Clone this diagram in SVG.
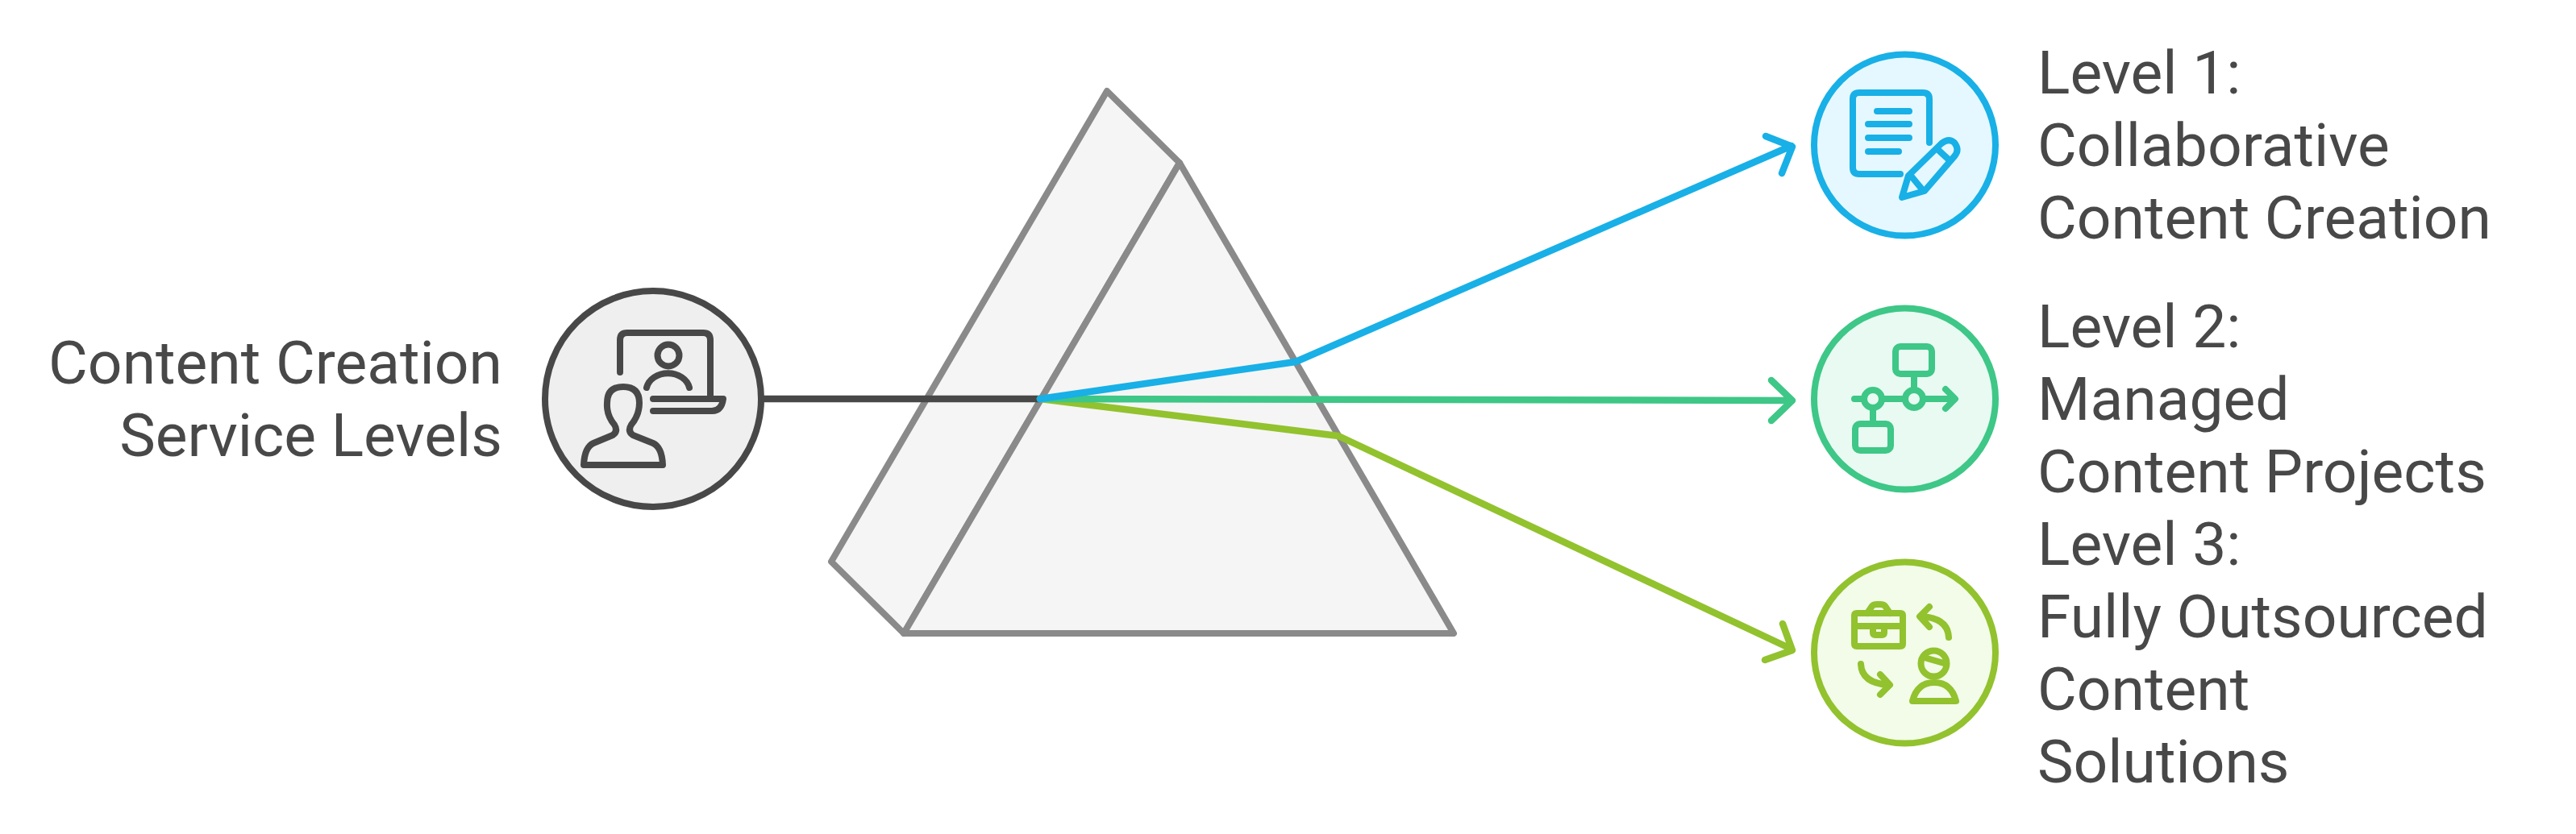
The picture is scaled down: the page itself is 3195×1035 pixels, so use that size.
<svg xmlns="http://www.w3.org/2000/svg" width="3195" height="1035" viewBox="0 0 3195 1035">
<style>
text{font-family:Roboto,"Liberation Sans",sans-serif;font-size:75px;fill:#484848}
.c{stroke-width:8.500;fill:none;stroke-linecap:round;stroke-linejoin:round}
.i{stroke-width:8;fill:none;stroke-linecap:round;stroke-linejoin:round}
.p{fill:#f5f5f5;stroke:#8a8a8a;stroke-width:8;stroke-linejoin:round}
.o{stroke-width:8}
.b{stroke:#18b0e6}.g{stroke:#3ec787}.l{stroke:#92c22e}.d{stroke:#484848}
</style>
<g id="prism"><path class="p" d="M1373 113L1463 202L1121 786L1031 697Z"/><path class="p" d="M1463 202L1803 786H1121Z"/></g>
<g id="connectors">
<path class="c d" d="M947 495H1290"/>
<path class="c l" d="M1290 495L1660 541L2221 805M2189 819L2223 807L2211 774"/>
<path class="c g" d="M1290 495L2222 497M2197 472L2223 497L2197 522"/>
<path class="c b" d="M1290 495L1607 449L2222 181M2190 169L2223 182L2210 215"/>
</g>
<g id="source"><circle class="o d" cx="810" cy="495" r="134" fill="#efefef"/>
<path class="i d" d="M769 462V422Q769 413 778 413H872Q881 413 881 422V493M810 495H897Q895 510 883 510H810M802 481A27 22 0 0 1 855 481"/>
<circle class="i d" cx="829" cy="441" r="13.500"/>
<path class="i d" d="M724 577Q725 555 736 550L760 540Q767 535 762 527Q752 515 753 500Q753 480 773 480Q793 480 793 500Q793 515 783 527Q778 535 785 540L810 550Q821 555 822 577Z"/>
</g>
<g id="level1"><circle class="o b" cx="2362.500" cy="180" r="112.500" fill="#e5f8ff"/>
<path class="i b" d="M2357 216H2306Q2298 216 2298 208V123Q2298 115 2306 115H2385Q2393 115 2393 123V177M2328 138H2368M2317 154H2368M2317 171H2368M2317 188H2355M2359 245L2367 218L2408 178Q2417 171 2424 177Q2431 186 2424 194L2387 237ZM2370 218L2384 235M2405 187L2418 199"/></g>
<g id="level2"><circle class="o g" cx="2362.500" cy="495" r="112.500" fill="#e8faf2"/>
<path class="i g" d="M2300 495H2312M2334 495H2363M2385 495H2424M2413 483L2425 495L2413 507M2374 484V465M2323 506V525"/>
<rect class="i g" x="2351" y="430" width="45" height="34" rx="6"/><rect class="i g" x="2301" y="526" width="44" height="33" rx="6"/><circle class="i g" cx="2323" cy="495" r="11"/><circle class="i g" cx="2374" cy="495" r="11"/></g>
<g id="level3"><circle class="o l" cx="2362.500" cy="810" r="112.500" fill="#f3fbe9"/>
<path class="i l" d="M2303 761H2357Q2360 761 2360 764V799Q2360 802 2357 802H2303Q2300 802 2300 799V764Q2300 761 2303 761ZM2300 777H2360M2316 761L2322 752Q2324 750 2328 750H2332Q2336 750 2338 752L2344 761M2323 777V785Q2323 788 2326 788H2334Q2337 788 2337 785V777M2417 791Q2416 767 2383 765M2393 753L2381 765L2393 778M2308 824Q2309 848 2343 850M2332 862L2344 850L2332 837M2372 870Q2378 847 2399 847Q2420 847 2426 870ZM2390 817L2411 823"/><circle class="i l" cx="2398.500" cy="823.500" r="16"/></g>
<text x="623" y="476" text-anchor="end">Content Creation</text>
<text x="623" y="566" text-anchor="end">Service Levels</text>
<text x="2527" y="116">Level 1:</text><text x="2527" y="206">Collaborative</text><text x="2527" y="296">Content Creation</text>
<text x="2527" y="431">Level 2:</text><text x="2527" y="521">Managed</text><text x="2527" y="611">Content Projects</text>
<text x="2527" y="701">Level 3:</text><text x="2527" y="791">Fully Outsourced</text><text x="2527" y="881">Content</text><text x="2527" y="971">Solutions</text>
</svg>
